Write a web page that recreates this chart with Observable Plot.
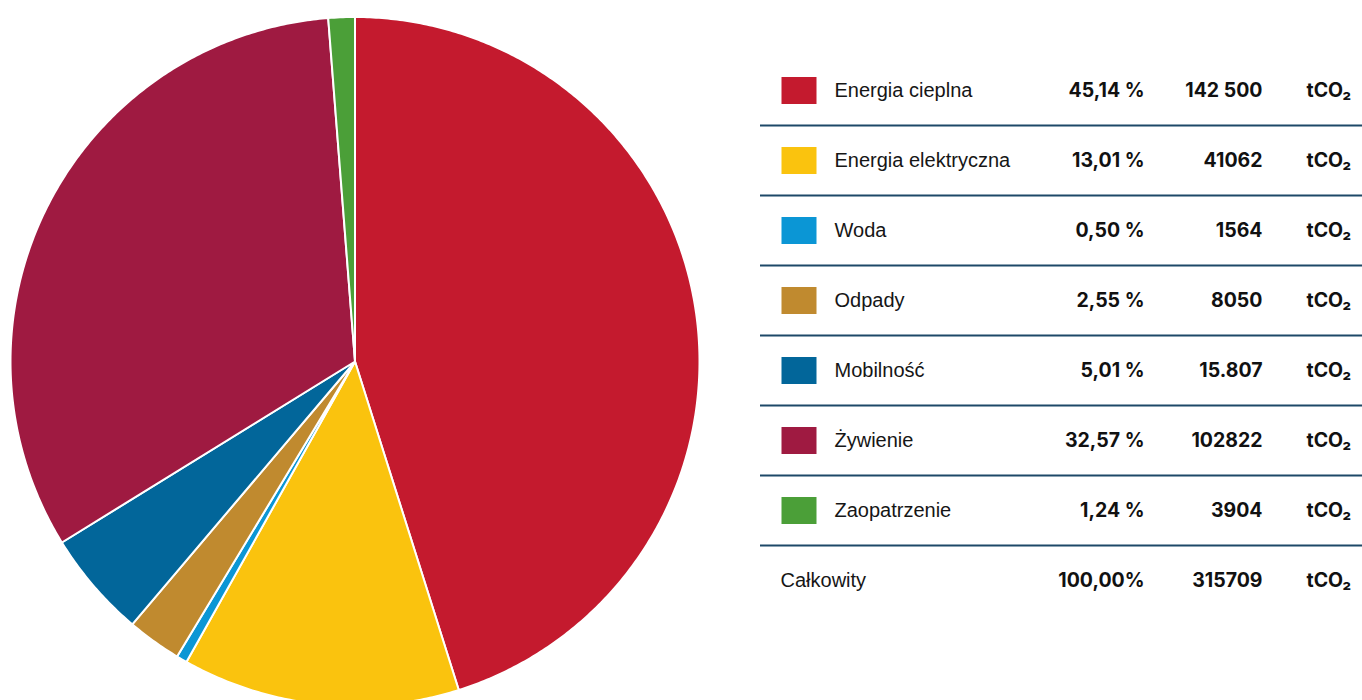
<!DOCTYPE html>
<html>
<head>
<meta charset="utf-8">
<script src="https://cdn.jsdelivr.net/npm/d3@7"></script>
<script src="https://cdn.jsdelivr.net/npm/@observablehq/plot@0.6"></script>
<style>
  html, body { margin: 0; padding: 0; background: #fff; }
  #wrap { display: flex; flex-direction: row; width: 1362px; height: 700px; overflow: hidden; }
  #wrap svg { display: block; overflow: hidden; }
  g[aria-label="labels"] text { letter-spacing: 0.75px; }
  g[aria-label="total-label"] text { letter-spacing: 0.75px; }
</style>
</head>
<body>
<div id="wrap"></div>
<script>
// ---- data ----
const categories = ["Energia cieplna", "Energia elektryczna", "Woda", "Odpady", "Mobilność", "Żywienie", "Zaopatrzenie"];
const shares = [45.14, 13.01, 0.50, 2.55, 5.01, 32.57, 1.24];
const shareLabels = ["45,14 %", "13,01 %", "0,50 %", "2,55 %", "5,01 %", "32,57 %", "1,24 %"];
const emissionLabels = ["142 500", "41062", "1564", "8050", "15.807", "102822", "3904"];
const colors = ["#C41A2E", "#FAC30E", "#0B96D5", "#C08A2F", "#02669A", "#9F1A41", "#4B9F38"];
const unitLabel = "tCO₂";
const totalLabel = "Całkowity";
const totalShareLabel = "100,00%";
const totalEmissionLabel = "315709";

// ---- pie geometry derived from shares ----
const sumShares = d3.sum(shares);
const piePoints = [];
let acc = 0;
categories.forEach((name, i) => {
  const a0 = acc / sumShares * 2 * Math.PI;
  acc += shares[i];
  const a1 = acc / sumShares * 2 * Math.PI;
  piePoints.push({name, x: 0, y: 0});
  const n = Math.max(2, Math.ceil((a1 - a0) / (Math.PI / 360)));
  for (let k = 0; k <= n; k++) {
    const a = a0 + (a1 - a0) * k / n;
    piePoints.push({name, x: Math.sin(a), y: Math.cos(a)});
  }
});

const colorScale = {type: "ordinal", domain: categories, range: colors};

const pie = Plot.plot({
  width: 740,
  height: 700,
  margin: 0,
  x: {domain: [-1, 1], range: [10, 699], axis: null},
  y: {domain: [-1, 1], range: [705.5, 16.5], axis: null},
  color: colorScale,
  marks: [
    Plot.line(piePoints, {
      x: "x", y: "y", z: "name", fill: "name",
      stroke: "white", strokeWidth: 2, strokeLinejoin: "round",
      curve: "linear-closed"
    })
  ]
});

// ---- table ----
const rows = categories.map((name, i) => ({name, pct: shareLabels[i], val: emissionLabels[i], unit: unitLabel}));
const totalRow = [{name: totalLabel, pct: totalShareLabel, val: totalEmissionLabel, unit: unitLabel}];
const allRows = rows.concat(totalRow);
const rowDomain = allRows.map(d => d.name);

const swatch = {draw(context) { context.rect(-17.5, -13.5, 35, 27); }};
const labelFont = "'Liberation Sans', Arial, sans-serif";
const numFont = "Inter, 'Noto Sans', sans-serif";

const table = Plot.plot({
  width: 622,
  height: 700,
  marginLeft: 20, marginRight: 0, marginTop: 0, marginBottom: 0,
  y: {type: "point", domain: rowDomain, range: [88, 582.5], padding: 0, axis: null},
  color: colorScale,
  marks: [
    Plot.ruleY(rows, {y: "name", dy: 35, stroke: "#1D4868", strokeWidth: 2.2}),
    Plot.dot(rows, {y: "name", frameAnchor: "left", dx: 38.5, symbol: swatch, fill: "name", r: 10}),
    Plot.text(rows, {y: "name", text: "name", frameAnchor: "left", textAnchor: "start", dx: 74, dy: 0.5,
      fontSize: 20, fontFamily: labelFont, fill: "#161616", ariaLabel: "labels"}),
    Plot.text(totalRow, {y: "name", text: "name", frameAnchor: "left", textAnchor: "start", dx: 20, dy: 0.5,
      fontSize: 20, fontFamily: labelFont, fill: "#161616", ariaLabel: "total-label"}),
    Plot.text(allRows, {y: "name", text: "pct", frameAnchor: "left", textAnchor: "end", dx: 384, dy: 0.5,
      fontSize: 19.5, fontWeight: 700, fontFamily: numFont, fill: "#111"}),
    Plot.text(allRows, {y: "name", text: "val", frameAnchor: "left", textAnchor: "end", dx: 502, dy: 0.5,
      fontSize: 19.5, fontWeight: 700, fontFamily: numFont, fill: "#111"}),
    Plot.text(allRows, {y: "name", text: "unit", frameAnchor: "left", textAnchor: "start", dx: 546, dy: 0.5,
      fontSize: 19.5, fontWeight: 700, fontFamily: numFont, fill: "#111"})
  ]
});

const wrap = document.getElementById("wrap");
wrap.appendChild(pie);
wrap.appendChild(table);
</script>
</body>
</html>
